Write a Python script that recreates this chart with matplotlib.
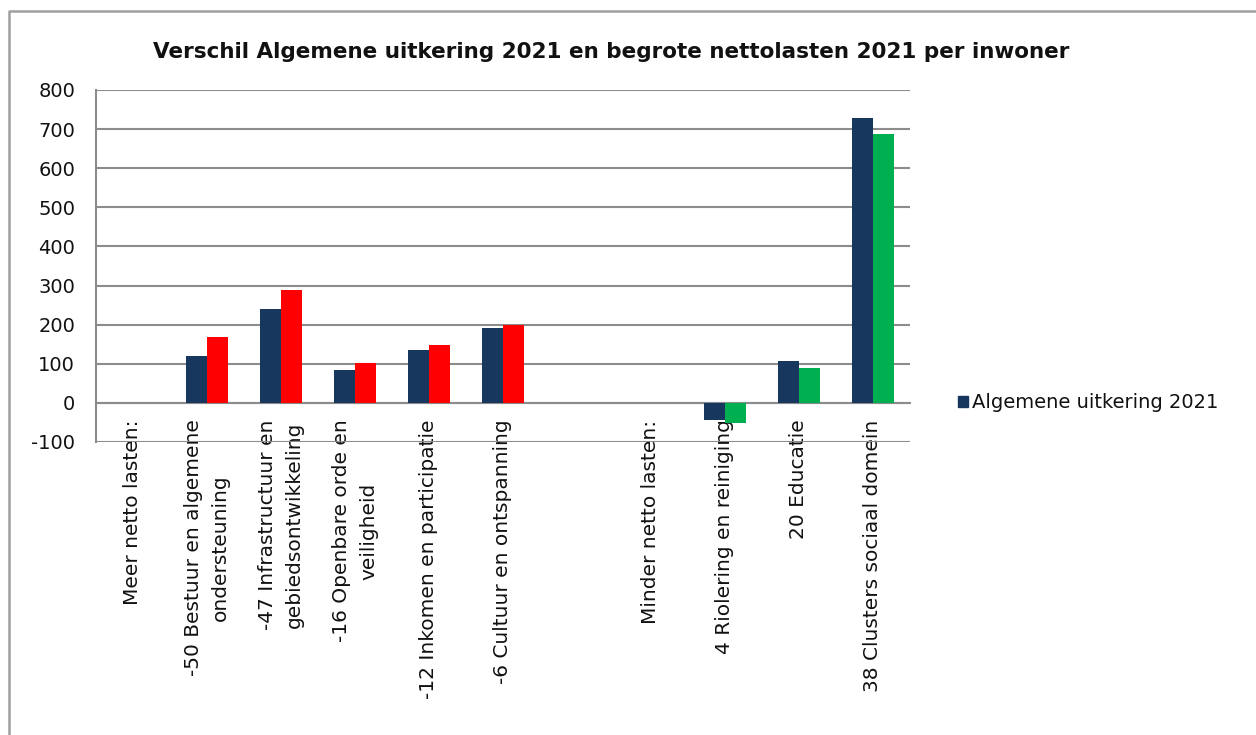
import matplotlib.pyplot as plt
import numpy as np
from matplotlib.patches import Patch
from matplotlib.lines import Line2D

plt.rcParams['font.family'] = ['DejaVu Sans']
plt.rcParams['axes.unicode_minus'] = False

categories = [
    "Meer netto lasten:",
    "-50 Bestuur en algemene\nondersteuning",
    "-47 Infrastructuur en\ngebiedsontwikkeling",
    "-16 Openbare orde en\nveiligheid",
    "-12 Inkomen en participatie",
    "-6 Cultuur en ontspanning",
    "",
    "Minder netto lasten:",
    "4 Riolering en reiniging",
    "20 Educatie",
    "38 Clusters sociaal domein",
]
# Algemene uitkering 2021 per inwoner
uitkering = [np.nan, 119, 241, 85, 135, 192, np.nan, np.nan, -44, 106, 729]
# begrote nettolasten 2021 per inwoner
nettolasten = [np.nan, 168, 289, 101, 147, 198, np.nan, np.nan, -51, 88, 688]
# red for the groups with more net costs, green for those with less
second_colors = ['#ff0000'] * 7 + ['#00b050'] * 4

yticks = [-100, 0, 100, 200, 300, 400, 500, 600, 700, 800]

navy = '#17375e'
grid_grey = '#8c8c8c'
text_col = '#111111'

fig = plt.figure(figsize=(12.56, 7.35), dpi=100)
ax = fig.add_axes([96 / 1256, 1 - 442 / 735, (910 - 96) / 1256, (442 - 90) / 735])

x = np.arange(len(categories))
w = 0.28
ax.bar(x - w / 2, uitkering, w, color=navy, zorder=3)
ax.bar(x + w / 2, nettolasten, w, color=second_colors, zorder=3)

# spine moves reset the ticks, so do this before styling them
for side in ['top', 'right']:
    ax.spines[side].set_visible(False)
ax.spines['bottom'].set_position(('data', 0))
ax.spines['bottom'].set_color(grid_grey)
ax.spines['bottom'].set_linewidth(1.5)
ax.spines['left'].set_color(grid_grey)
ax.spines['left'].set_linewidth(1.5)

ax.set_xlim(-0.5, len(categories) - 0.5)
ax.set_ylim(-100, 800)
ax.set_yticks(yticks)
ax.set_yticklabels([str(v) for v in yticks])
ax.yaxis.grid(True, color=grid_grey, linewidth=1.5, zorder=0)
ax.set_xticks(x)
ax.set_xticklabels(categories, rotation=90, ha='center', va='top',
                   multialignment='center', linespacing=1.55,
                   fontsize=14.5, color=text_col)
ax.tick_params(axis='x', length=0, pad=12)
ax.tick_params(axis='y', length=0, pad=15, labelsize=14, labelcolor=text_col)

fig.text(0.487, 1 - 52 / 735,
         "Verschil Algemene uitkering 2021 en begrote nettolasten 2021 per inwoner",
         ha='center', va='center', fontsize=15.5, fontweight='bold', color=text_col)

fig.legend(handles=[Patch(color=navy, label='Algemene uitkering 2021')],
           loc='center left', bbox_to_anchor=(950 / 1256, 1 - 403 / 735),
           frameon=False, fontsize=14, handlelength=0.55, handleheight=0.55,
           handletextpad=0.2, borderaxespad=0, labelcolor=text_col)

# chart area frame along the top and left edge
fig.add_artist(Line2D([9 / 1256, 9 / 1256, 1.0], [0.0, 1 - 11 / 735, 1 - 11 / 735],
                      transform=fig.transFigure, color='#a0a0a0', linewidth=1.8))

fig.savefig('out.png', dpi=100)
